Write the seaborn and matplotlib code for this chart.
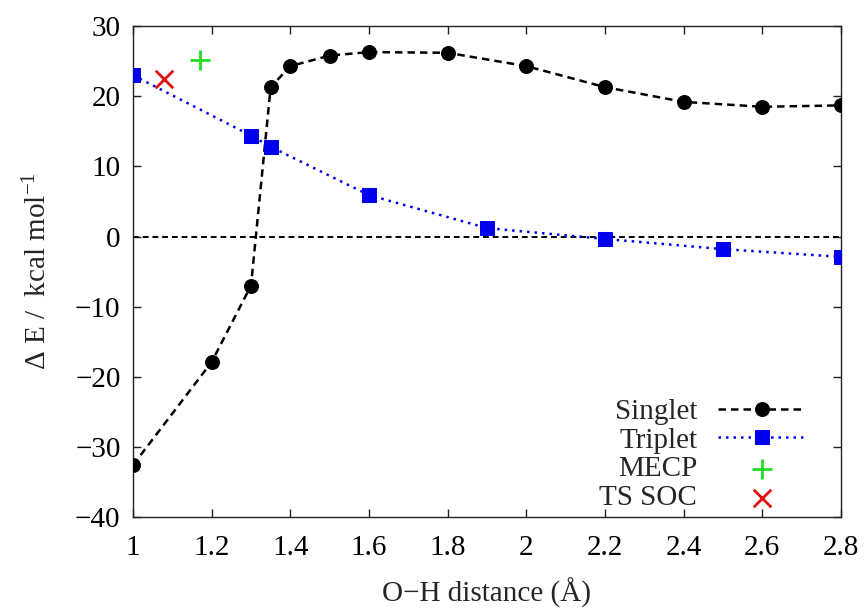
import matplotlib
matplotlib.use("Agg")
import matplotlib.pyplot as plt
import seaborn as sns

# O-H distance (Angstrom) and relative energies (kcal/mol)
singlet_x = [1.0, 1.2, 1.3, 1.35, 1.4, 1.5, 1.6, 1.8, 2.0, 2.2, 2.4, 2.6, 2.8]
singlet_e = [-32.6, -17.9, -7.0, 21.3, 24.3, 25.8, 26.3, 26.2, 24.3, 21.3, 19.2, 18.5, 18.7]

triplet_x = [1.0, 1.3, 1.35, 1.6, 1.9, 2.2, 2.5, 2.8]
triplet_e = [23.0, 14.4, 12.8, 5.9, 1.2, -0.35, -1.8, -2.9]

mecp_x = [1.17]
mecp_e = [25.2]
tssoc_x = [1.08]
tssoc_e = [22.5]

x_ticks = [1, 1.2, 1.4, 1.6, 1.8, 2, 2.2, 2.4, 2.6, 2.8]
y_ticks = [-40, -30, -20, -10, 0, 10, 20, 30]

sns.set_style("ticks")
plt.rcParams['font.family'] = ['Liberation Serif', 'DejaVu Serif']
plt.rcParams['mathtext.fontset'] = 'custom'
plt.rcParams['mathtext.rm'] = 'Liberation Serif'
plt.rcParams['mathtext.it'] = 'Liberation Serif:italic'

fs = 21

fig = plt.figure(figsize=(8.67, 6.08), dpi=100)
ax = fig.add_axes([0.1534, 0.1497, 0.8166, 0.8073])

# zero reference line
ax.axhline(0, color='black', linestyle=(0, (3, 2)), linewidth=1.4, zorder=1)

sns.lineplot(x=singlet_x, y=singlet_e, ax=ax, color='black', linestyle=(0, (3, 2)),
             linewidth=1.8, marker='o', markersize=10, markeredgecolor='black',
             label='Singlet', sort=False, zorder=3)
sns.lineplot(x=triplet_x, y=triplet_e, ax=ax, color='#0000ee', linestyle=(0, (1, 2)),
             linewidth=1.8, marker='s', markersize=10, markeredgecolor='#0000ee',
             label='Triplet', sort=False, zorder=3)
sns.scatterplot(x=mecp_x, y=mecp_e, ax=ax, color='#22dd22', marker='+', s=220,
                linewidth=2, label='MECP', zorder=4)
sns.scatterplot(x=tssoc_x, y=tssoc_e, ax=ax, color='#dd1111', marker='x', s=160,
                linewidth=2, label='TS SOC', zorder=4)

ax.set_xlim(1, 2.8)
ax.set_ylim(-40, 30)
ax.set_xticks(x_ticks)
ax.set_xticklabels(['1', '1.2', '1.4', '1.6', '1.8', '2', '2.2', '2.4', '2.6', '2.8'])
ax.set_yticks(y_ticks)
ax.tick_params(direction='in', length=6, width=1, top=True, right=True,
               labelsize=fs, colors='#222222', labelcolor='black')
ax.tick_params(axis='x', pad=13)
ax.tick_params(axis='y', pad=9)
for sp in ax.spines.values():
    sp.set_visible(True)
    sp.set_color('#222222')
    sp.set_linewidth(1)

ax.set_xlabel('O−H distance (Å)', fontsize=fs, labelpad=12)
ax.set_ylabel(r'Δ E /  kcal mol$^{-1}$', fontsize=fs, labelpad=16)

handles, labels = ax.get_legend_handles_labels()
ax.legend(handles, labels, loc='lower right', bbox_to_anchor=(0.966, -0.012),
          frameon=False, markerfirst=False, fontsize=fs, handlelength=3.0,
          labelspacing=0.08, handletextpad=0.7, borderaxespad=0.0)

plt.savefig('out.png', dpi=100)
